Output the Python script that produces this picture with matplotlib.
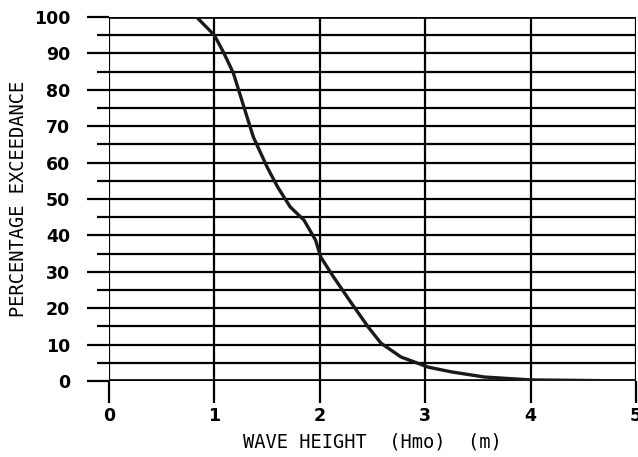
import matplotlib.pyplot as plt
import numpy as np

# wave height (m) vs percentage exceedance
hmo = [0.83, 1.0, 1.09, 1.18, 1.28, 1.37, 1.50, 1.60, 1.72, 1.85, 1.96, 2.01,
       2.13, 2.30, 2.46, 2.58, 2.77, 3.03, 3.25, 3.56, 4.0, 5.0]
exceed = [100, 95, 90.1, 84.6, 75.3, 67.0, 58.8, 53.3, 47.8, 44.2, 38.7, 34.0,
          28.6, 21.4, 14.8, 10.4, 6.6, 3.8, 2.5, 1.1, 0.3, 0.0]

x_ticks = [0, 1, 2, 3, 4, 5]
y_ticks = [0, 10, 20, 30, 40, 50, 60, 70, 80, 90, 100]
y_minor = [5, 15, 25, 35, 45, 55, 65, 75, 85, 95]

fig = plt.figure(figsize=(6.38, 4.57), dpi=100)
ax = fig.add_axes([0.1708, 0.1663, 0.8261, 0.7965])

ax.set_xlim(0, 5)
ax.set_ylim(0, 100)

# grid lines drawn like the plotter output
for y in y_ticks + y_minor:
    ax.axhline(y, color='black', linewidth=1.6, zorder=1)
for x in x_ticks:
    ax.axvline(x, color='black', linewidth=1.6, zorder=1)
ax.axhline(0, color='black', linewidth=2.6, zorder=1)
ax.axhline(100, color='black', linewidth=2.6, zorder=1)

ax.plot(hmo, exceed, color='#1a1a1a', linewidth=2.4, zorder=3)

for s in ax.spines.values():
    s.set_visible(False)

ax.set_xticks(x_ticks)
ax.set_yticks(y_ticks)
ax.set_yticks(y_minor, minor=True)
ax.tick_params(axis='y', which='major', length=16, width=1.6, pad=12, labelsize=12.5)
ax.tick_params(axis='y', which='minor', length=9, width=1.6)
ax.tick_params(axis='x', which='major', length=16, width=1.6, pad=3, labelsize=12.5)
for lab in ax.get_xticklabels() + ax.get_yticklabels():
    lab.set_fontweight('bold')

ax.set_xlabel('WAVE HEIGHT  (Hmo)  (m)', fontsize=13.5, family='DejaVu Sans Mono', labelpad=5)
ax.set_ylabel('PERCENTAGE EXCEEDANCE', fontsize=13.5, family='DejaVu Sans Mono', labelpad=4)

fig.savefig('out.png', dpi=100)
